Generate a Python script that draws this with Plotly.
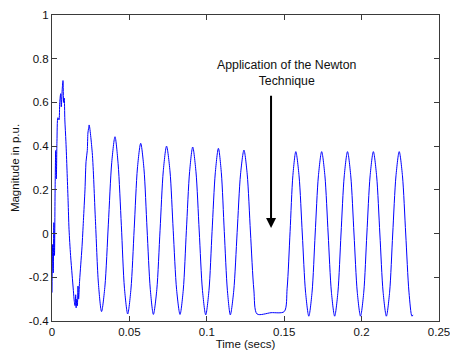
import plotly.graph_objects as go

# Time (secs) and magnitude (p.u.)
time_s = [
    0.0000, 0.0004, 0.0008, 0.0012, 0.0016, 0.0020, 0.0024, 0.0028, 0.0032, 0.0038,
    0.0045, 0.0050, 0.0056, 0.0060, 0.0066, 0.0071, 0.0075, 0.0079, 0.0083, 0.0090,
    0.0097, 0.0104, 0.0110, 0.0120, 0.0130, 0.0138, 0.0144, 0.0149, 0.0153, 0.0156,
    0.0160, 0.0164, 0.0168, 0.0172, 0.0178, 0.0186, 0.0194, 0.0203, 0.0213, 0.0220,
    0.0228, 0.0232, 0.0236, 0.0240,
    0.0260, 0.0280, 0.0300, 0.0320, 0.0342, 0.0364, 0.0386, 0.0407, 0.0427, 0.0448,
    0.0468, 0.0489, 0.0510, 0.0531, 0.0552, 0.0573, 0.0594, 0.0614, 0.0635, 0.0655,
    0.0677, 0.0698, 0.0719, 0.0740, 0.0762, 0.0783, 0.0805, 0.0827, 0.0848, 0.0868,
    0.0889, 0.0909, 0.0930, 0.0951, 0.0972, 0.0993, 0.1014, 0.1034, 0.1055, 0.1075,
    0.1094, 0.1113, 0.1133, 0.1152, 0.1174, 0.1196, 0.1218, 0.1240, 0.1261, 0.1282,
    0.1304, 0.1325, 0.1415, 0.1500, 0.1519, 0.1538, 0.1556, 0.1575,
    0.1596, 0.1617, 0.1638, 0.1659, 0.1680, 0.1700, 0.1721, 0.1742, 0.1763, 0.1784,
    0.1805, 0.1826, 0.1847, 0.1867, 0.1888, 0.1909, 0.1930, 0.1951, 0.1972, 0.1993,
    0.2014, 0.2034, 0.2055, 0.2076, 0.2097, 0.2118, 0.2139, 0.2160, 0.2181, 0.2201,
    0.2222, 0.2243, 0.2264, 0.2285, 0.2306, 0.2325, 0.2332,
]
magnitude_pu = [
    -0.27, -0.05, -0.18, 0.05, -0.10, 0.20, 0.38, 0.25, 0.42, 0.53,
    0.52, 0.60, 0.64, 0.58, 0.66, 0.70, 0.60, 0.62, 0.52, 0.42,
    0.29, 0.15, 0.02, -0.10, -0.19, -0.26, -0.31, -0.33, -0.28, -0.34,
    -0.30, -0.33, -0.24, -0.30, -0.22, -0.14, -0.06, 0.06, 0.20, 0.33,
    0.38, 0.46, 0.48, 0.497,
    0.37, 0.07, -0.23, -0.357, -0.24, 0.043, 0.326, 0.443, 0.32, 0.038,
    -0.25, -0.368, -0.254, 0.022, 0.30, 0.413, 0.297, 0.021, -0.255, -0.370,
    -0.257, 0.015, 0.287, 0.400, 0.287, 0.015, -0.257, -0.370, -0.258, 0.013,
    0.284, 0.396, 0.283, 0.012, -0.26, -0.372, -0.26, 0.009, 0.278, 0.390,
    0.278, 0.009, -0.26, -0.372, -0.262, 0.005, 0.272, 0.382, 0.272, 0.007,
    -0.258, -0.368, -0.362, -0.357, -0.25, 0.009, 0.265, 0.375,
    0.264, -0.002, -0.268, -0.378, -0.268, -0.002, 0.264, 0.375, 0.264, -0.002,
    -0.268, -0.378, -0.268, -0.002, 0.264, 0.375, 0.264, -0.002, -0.268, -0.378,
    -0.268, -0.002, 0.264, 0.375, 0.264, -0.002, -0.268, -0.378, -0.268, -0.002,
    0.264, 0.375, 0.264, -0.002, -0.268, -0.378, -0.372,
]

x_tick_vals = [0, 0.05, 0.1, 0.15, 0.2, 0.25]
x_tick_text = ["0", "0.05", "0.1", "0.15", "0.2", "0.25"]
y_tick_vals = [-0.4, -0.2, 0, 0.2, 0.4, 0.6, 0.8, 1]
y_tick_text = ["-0.4", "-0.2", "0", "0.2", "0.4", "0.6", "0.8", "1"]

annotation_text = "Application of the Newton<br>Technique"
arrow_x = 0.1415
arrow_tail_y = 0.637
arrow_head_y = 0.026

axis_color = "#3a3a3a"
text_color = "#111111"
font_family = "Liberation Sans, Arial, sans-serif"

fig = go.Figure()
fig.add_trace(go.Scatter(
    x=time_s, y=magnitude_pu, mode="lines",
    line=dict(color="#0000ff", width=1, shape="spline", smoothing=0.8),
    hoverinfo="skip", showlegend=False,
))

common_axis = dict(
    showgrid=False, zeroline=False, showline=True, linecolor=axis_color, linewidth=1,
    mirror="ticks", ticks="inside", ticklen=5, tickcolor=axis_color, tickwidth=1,
    tickfont=dict(family=font_family, size=11.5, color=text_color),
    automargin=False, ticklabeloverflow="allow",
)

fig.update_xaxes(
    range=[0, 0.25], tickvals=x_tick_vals, ticktext=x_tick_text,
    title=dict(text="Time (secs)", font=dict(family=font_family, size=11.5, color=text_color), standoff=2),
    **common_axis,
)
fig.update_yaxes(
    range=[-0.4, 1], tickvals=y_tick_vals, ticktext=y_tick_text,
    title=dict(text="Magnitude in p.u.", font=dict(family=font_family, size=11.5, color=text_color), standoff=6),
    **common_axis,
)

fig.add_annotation(
    x=arrow_x, y=arrow_head_y, ax=arrow_x, ay=arrow_tail_y,
    xref="x", yref="y", axref="x", ayref="y",
    text="", showarrow=True, arrowhead=2, arrowsize=1, arrowwidth=2, arrowcolor="#000000",
)
fig.add_annotation(
    x=0.1515, y=0.736, xref="x", yref="y", text=annotation_text, showarrow=False,
    font=dict(family=font_family, size=12.3, color=text_color), align="center",
)

fig.update_layout(
    width=450, height=354,
    margin=dict(l=52, r=11, t=15, b=33),
    paper_bgcolor="white", plot_bgcolor="white",
)

fig.write_html(
    "out.html",
    config={"displayModeBar": False, "staticPlot": True},
    post_script="document.body.style.margin='0px';document.body.style.overflow='hidden';",
)
